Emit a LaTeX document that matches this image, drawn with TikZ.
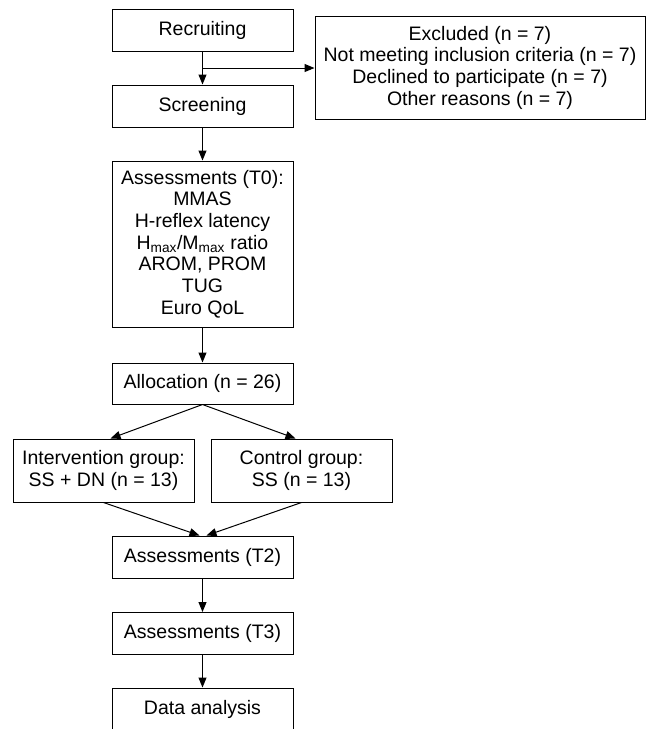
\documentclass[tikz,border=0pt]{standalone}
\usepackage{fontspec}
\setmainfont{Liberation Sans}
\usetikzlibrary{arrows.meta}

\begin{document}
\begin{tikzpicture}[x=1pt, y=-1pt,
  box/.style={draw, line width=1pt, minimum width=181pt, minimum height=42pt, inner sep=2pt, align=center, font=\fontsize{19.5}{21.7}\selectfont},
  arr/.style={line width=1pt, -{Triangle[length=10pt, width=8pt]}}]

\useasboundingbox (0,0) rectangle (649,729);

% Recruiting and exclusions
\node[box] (recruit) at (202.5,30) {Recruiting};
\node[box] (screen) at (202.5,106) {Screening};
\node[box, minimum width=330pt, minimum height=103pt] (excl) at (480,67.5) {Excluded (n = 7)\\Not meeting inclusion criteria (n = 7)\\Declined to participate (n = 7)\\Other reasons (n = 7)};
\coordinate (split) at (202.5,68);
\draw[arr] (recruit) -- (screen);
\draw[arr] (split) -- (split -| excl.west);

% Baseline
\node[box, minimum height=166pt] (base) at (202.5,244) {Assessments (T0):\\MMAS\\H-reflex latency\\H\textsubscript{max}/M\textsubscript{max} ratio\\AROM, PROM\\TUG\\Euro QoL};
\draw[arr] (screen) -- (base);

% Allocation
\node[box, minimum height=41pt] (alloc) at (202.5,383.5) {Allocation (n = 26)};
\node[box, minimum height=63pt] (interv) at (103.5,470.5) {Intervention group:\\SS + DN (n = 13)};
\node[box, minimum height=63pt] (ctrl) at (301.5,470.5) {Control group:\\SS (n = 13)};
\draw[arr] (base) -- (alloc);
\draw[arr] (alloc.south) -- ([xshift=7pt]interv.north);
\draw[arr] (alloc.south) -- ([xshift=-6pt]ctrl.north);

% Follow-up
\node[box] (post) at (202.5,557) {Assessments (T2)};
\node[box] (follow) at (202.5,633.5) {Assessments (T3)};
\node[box] (data) at (202.5,709) {Data analysis};
\draw[arr] (interv.south) -- ([xshift=-3pt]post.north);
\draw[arr] (ctrl.south) -- ([xshift=4pt]post.north);
\draw[arr] (post) -- (follow);
\draw[arr] (follow) -- (data);

\end{tikzpicture}
\end{document}
